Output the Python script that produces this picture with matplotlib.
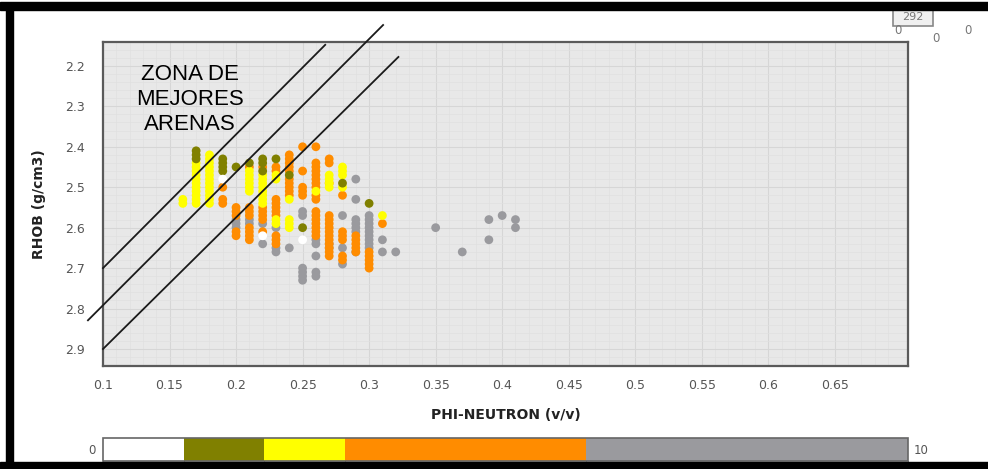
import matplotlib
matplotlib.use('Agg')
import matplotlib.pyplot as plt
import numpy as np
from matplotlib.colors import ListedColormap, BoundaryNorm
from matplotlib.cm import ScalarMappable
from matplotlib.patches import Rectangle

# scatter data, grouped by colour class
phi_white = [0.19, 0.22, 0.25]
rhob_white = [2.48, 2.62, 2.63]

phi_olive = [0.17, 0.17, 0.17, 0.19, 0.19, 0.19, 0.19, 0.20, 0.21, 0.22, 0.22, 0.22,
             0.23, 0.24, 0.25, 0.28, 0.30]
rhob_olive = [2.41, 2.42, 2.43, 2.43, 2.44, 2.45, 2.46, 2.45, 2.44, 2.43, 2.44, 2.46,
              2.43, 2.47, 2.60, 2.49, 2.54]

phi_yellow = [0.16, 0.16,
              0.17, 0.17, 0.17, 0.17, 0.17, 0.17, 0.17, 0.17, 0.17, 0.17, 0.17,
              0.18, 0.18, 0.18, 0.18, 0.18, 0.18, 0.18, 0.18, 0.18, 0.18, 0.18, 0.18, 0.18,
              0.21, 0.21, 0.21, 0.21, 0.21, 0.21,
              0.22, 0.22, 0.22, 0.22, 0.22, 0.22, 0.22, 0.22,
              0.23, 0.23, 0.23, 0.23,
              0.24, 0.24, 0.24, 0.24,
              0.26,
              0.27, 0.27, 0.27, 0.27,
              0.28, 0.28, 0.28, 0.28,
              0.31]
rhob_yellow = [2.53, 2.54,
               2.44, 2.45, 2.46, 2.47, 2.48, 2.49, 2.50, 2.51, 2.52, 2.53, 2.54,
               2.42, 2.43, 2.44, 2.45, 2.46, 2.47, 2.48, 2.49, 2.50, 2.51, 2.52, 2.53, 2.54,
               2.46, 2.47, 2.48, 2.49, 2.50, 2.51,
               2.47, 2.48, 2.49, 2.50, 2.51, 2.52, 2.53, 2.54,
               2.47, 2.48, 2.58, 2.59,
               2.53, 2.58, 2.59, 2.60,
               2.51,
               2.47, 2.48, 2.49, 2.50,
               2.45, 2.46, 2.47, 2.50,
               2.57]

phi_orange = [0.19, 0.19, 0.19,
              0.20, 0.20, 0.20, 0.20, 0.20,
              0.21, 0.21, 0.21, 0.21, 0.21, 0.21, 0.21, 0.21,
              0.22, 0.22, 0.22, 0.22, 0.22, 0.22,
              0.23, 0.23, 0.23, 0.23, 0.23, 0.23, 0.23, 0.23, 0.23, 0.23,
              0.24, 0.24, 0.24, 0.24, 0.24, 0.24, 0.24, 0.24, 0.24, 0.24,
              0.25, 0.25, 0.25, 0.25, 0.25,
              0.26, 0.26, 0.26, 0.26, 0.26, 0.26, 0.26, 0.26, 0.26, 0.26, 0.26, 0.26,
              0.26, 0.26, 0.26, 0.26, 0.26,
              0.27, 0.27, 0.27, 0.27, 0.27, 0.27, 0.27, 0.27, 0.27, 0.27, 0.27, 0.27,
              0.27, 0.27,
              0.28, 0.28, 0.28, 0.28, 0.28, 0.28,
              0.29, 0.29, 0.29, 0.29, 0.29,
              0.30, 0.30, 0.30, 0.30, 0.30,
              0.31]
rhob_orange = [2.50, 2.53, 2.54,
               2.55, 2.56, 2.57, 2.61, 2.62,
               2.45, 2.55, 2.56, 2.57, 2.60, 2.61, 2.62, 2.63,
               2.45, 2.55, 2.56, 2.57, 2.58, 2.61,
               2.45, 2.46, 2.53, 2.54, 2.55, 2.56, 2.57, 2.62, 2.63, 2.64,
               2.42, 2.43, 2.44, 2.45, 2.46, 2.48, 2.49, 2.50, 2.51, 2.52,
               2.40, 2.46, 2.50, 2.51, 2.52,
               2.40, 2.44, 2.45, 2.46, 2.47, 2.48, 2.49, 2.50, 2.52, 2.53, 2.56, 2.57,
               2.58, 2.59, 2.60, 2.61, 2.62,
               2.43, 2.44, 2.49, 2.57, 2.58, 2.59, 2.60, 2.61, 2.62, 2.63, 2.64, 2.65,
               2.66, 2.67,
               2.52, 2.61, 2.62, 2.63, 2.67, 2.68,
               2.62, 2.63, 2.64, 2.65, 2.66,
               2.66, 2.67, 2.68, 2.69, 2.70,
               2.59]

phi_gray = [0.20, 0.20, 0.20,
            0.21, 0.21,
            0.22, 0.22,
            0.23, 0.23, 0.23,
            0.24,
            0.25, 0.25, 0.25, 0.25, 0.25, 0.25,
            0.26, 0.26, 0.26, 0.26, 0.26,
            0.27, 0.27,
            0.28, 0.28, 0.28,
            0.29, 0.29, 0.29, 0.29, 0.29, 0.29, 0.29,
            0.30, 0.30, 0.30, 0.30, 0.30, 0.30, 0.30, 0.30, 0.30,
            0.31, 0.31,
            0.32, 0.35, 0.37, 0.39, 0.39, 0.40, 0.41, 0.41]
rhob_gray = [2.58, 2.59, 2.60,
             2.58, 2.59,
             2.59, 2.64,
             2.60, 2.65, 2.66,
             2.65,
             2.56, 2.57, 2.70, 2.71, 2.72, 2.73,
             2.63, 2.64, 2.67, 2.71, 2.72,
             2.64, 2.65,
             2.57, 2.65, 2.69,
             2.48, 2.53, 2.58, 2.59, 2.60, 2.61, 2.66,
             2.57, 2.58, 2.59, 2.60, 2.61, 2.62, 2.63, 2.64, 2.65,
             2.63, 2.66,
             2.66, 2.60, 2.66, 2.58, 2.63, 2.57, 2.58, 2.60]

# colour scale 0..10
bounds = [0, 1, 2, 3, 6, 10]
colors = ['#ffffff', '#808000', '#ffff00', '#ff8c00', '#9a9a9e']
cmap = ListedColormap(colors)
norm = BoundaryNorm(bounds, cmap.N)

# guide lines (start / end points)
line1_phi = [0.100, 0.267]
line1_rhob = [2.700, 2.148]
line2_phi = [0.0887, 0.3105]
line2_rhob = [2.829, 2.099]
line3_phi = [0.100, 0.322]
line3_rhob = [2.900, 2.178]

x_ticks = [0.1, 0.15, 0.2, 0.25, 0.3, 0.35, 0.4, 0.45, 0.5, 0.55, 0.6, 0.65]
y_ticks = [2.2, 2.3, 2.4, 2.5, 2.6, 2.7, 2.8, 2.9]

fig = plt.figure(figsize=(9.88, 4.69), dpi=100)
W, H = 988.0, 469.0
ax = fig.add_axes([103 / W, 1 - 366 / H, 805 / W, 324 / H])
ax.set_facecolor('#e8e8e8')

# stack all points, gray at the bottom
phi = np.array(phi_gray + phi_orange + phi_yellow + phi_olive + phi_white)
rhob = np.array(rhob_gray + rhob_orange + rhob_yellow + rhob_olive + rhob_white)
zval = np.array([8.0] * len(phi_gray) + [4.5] * len(phi_orange) + [2.5] * len(phi_yellow)
                + [1.5] * len(phi_olive) + [0.5] * len(phi_white))
ax.scatter(phi, rhob, c=zval, cmap=cmap, norm=norm, s=40, linewidths=0, zorder=3)

for lx, ly in [(line1_phi, line1_rhob), (line2_phi, line2_rhob), (line3_phi, line3_rhob)]:
    ax.plot(lx, ly, color='#1a1a1a', lw=1.3, clip_on=False, zorder=4)

ax.set_xlim(0.1, 0.705)
ax.set_ylim(2.942, 2.141)
ax.set_xticks(x_ticks)
ax.set_xticklabels([('%g' % v) for v in x_ticks])
ax.set_yticks(y_ticks)
ax.set_xticks(np.arange(0.1, 0.70, 0.01), minor=True)
ax.set_yticks(np.arange(2.16, 2.94, 0.02), minor=True)
ax.grid(True, which='major', color='#d6d6d6', lw=0.8, zorder=0)
ax.grid(True, which='minor', color='#e0e0e0', lw=0.5, zorder=0)
ax.set_axisbelow(True)
ax.tick_params(which='both', length=0)
ax.tick_params(axis='x', pad=9, labelsize=9, labelcolor='#555555')
ax.tick_params(axis='y', pad=13, labelsize=9, labelcolor='#555555')
for s in ax.spines.values():
    s.set_color('#5a5a5a')
    s.set_linewidth(1.6)

ax.set_xlabel('PHI-NEUTRON (v/v)', fontsize=10, fontweight='bold', color='#222222', labelpad=12)
ax.set_ylabel('RHOB (g/cm3)', fontsize=10, fontweight='bold', color='#222222', labelpad=14)

ax.text(0.1655, 2.284, 'ZONA DE\nMEJORES\nARENAS', ha='center', va='center',
        fontsize=16, family='Liberation Sans', color='black', linespacing=1.25, zorder=5)

# colour bar at the bottom
cax = fig.add_axes([103 / W, 1 - 461 / H, 805 / W, 23 / H])
cb = fig.colorbar(ScalarMappable(norm=norm, cmap=cmap), cax=cax, orientation='horizontal',
                  spacing='proportional')
cb.set_ticks([])
cb.outline.set_edgecolor('#666666')
cb.outline.set_linewidth(1.2)
fig.text(96 / W, 1 - 450 / H, '0', ha='right', va='center', fontsize=8.5, color='#555555')
fig.text(914 / W, 1 - 450 / H, '10', ha='left', va='center', fontsize=8.5, color='#555555')

# counter in the top right corner
fig.add_artist(Rectangle((893 / W, 1 - 26 / H), 40 / W, 16 / H, transform=fig.transFigure,
                         fc='#f0f0f0', ec='#888888', lw=1.2))
fig.text(913 / W, 1 - 17 / H, '292', ha='center', va='center', fontsize=8, color='#777777')
fig.text(898 / W, 1 - 31 / H, '0', ha='center', va='center', fontsize=8.5, color='#777777')
fig.text(936 / W, 1 - 38 / H, '0', ha='center', va='center', fontsize=8.5, color='#777777')
fig.text(968 / W, 1 - 31 / H, '0', ha='center', va='center', fontsize=8.5, color='#777777')

# black frame (top, left, bottom)
fig.add_artist(Rectangle((0, 1 - 10 / H), 1, 8 / H, transform=fig.transFigure, color='black'))
fig.add_artist(Rectangle((6 / W, 0), 7 / W, 1 - 3 / H, transform=fig.transFigure, color='black'))
fig.add_artist(Rectangle((0, 0), 1, 7 / H, transform=fig.transFigure, color='black'))

fig.savefig('out.png', dpi=100)
